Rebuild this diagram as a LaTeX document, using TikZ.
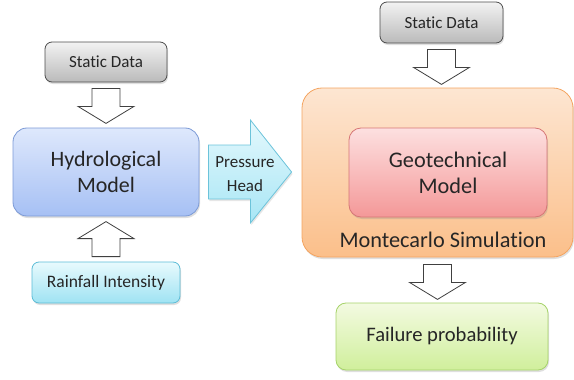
\documentclass[tikz,border=0pt]{standalone}
\usepackage{fontspec}
\setmainfont{Carlito}[Ligatures=NoCommon]
\usetikzlibrary{shadows,calc}
\definecolor{txt}{HTML}{262626}
\begin{document}
\begin{tikzpicture}[x=1pt,y=-1pt,
  box/.style={draw, line width=0.8pt, align=center, text=txt, inner sep=0pt,
    drop shadow={opacity=0.25, shadow xshift=1pt, shadow yshift=-2pt}},
  greybox/.style={box, rounded corners=7pt, draw=black!70, top color=black!5, bottom color=black!27},
  hollow/.style={draw=black!75, fill=white, line width=0.8pt},
  hollowdown/.pic={\draw[hollow] (-14,0) -- (14,0) -- (14,18) -- (28,18) -- (0,35) -- (-28,18) -- (-14,18) -- cycle;}
]
\useasboundingbox (0,0) rectangle (574,380);

% left column
\node[greybox, minimum width=122pt, minimum height=40pt, font=\fontsize{17}{20}\selectfont] (sd1) at (106,62) {Static Data};
\node[box, rounded corners=14pt, minimum width=186pt, minimum height=88pt,
  draw={rgb,255:red,124;green,154;blue,214}, top color={rgb,255:red,222;green,232;blue,252}, bottom color={rgb,255:red,166;green,192;blue,244},
  font=\fontsize{22}{26}\selectfont] (hyd) at (106,172) {Hydrological\\Model};
\node[box, rounded corners=7pt, minimum width=148pt, minimum height=41pt,
  draw={rgb,255:red,91;green,188;blue,214}, top color={rgb,255:red,232;green,250;blue,253}, bottom color={rgb,255:red,159;green,227;blue,243},
  font=\fontsize{17.5}{20}\selectfont] (rain) at (106,282.5) {Rainfall Intensity};

\pic at ($(sd1.south)+(0,6)$) {hollowdown};
\pic[yscale=-1] at ($(rain.north)+(0,-5)$) {hollowdown};

% right column
\node[box, rounded corners=20pt, minimum width=271pt, minimum height=169pt,
  draw={rgb,255:red,244;green,164;blue,96}, top color={rgb,255:red,253;green,230;blue,210}, bottom color={rgb,255:red,251;green,191;blue,138}] (mc) at (437.5,172.5) {};
\node[text=txt, font=\fontsize{22.3}{26}\selectfont] (mclabel) at (443,240) {Montecarlo Simulation};
\node[box, rounded corners=12pt, minimum width=198pt, minimum height=89pt,
  draw={rgb,255:red,214;green,118;blue,118}, top color={rgb,255:red,253;green,224;blue,224}, bottom color={rgb,255:red,244;green,152;blue,152},
  font=\fontsize{22.3}{26}\selectfont] (geo) at (448,172.5) {Geotechnical\\Model};
\node[greybox, minimum width=123pt, minimum height=41pt, font=\fontsize{17}{20}\selectfont] (sd2) at (441.5,22.5) {Static Data};
\node[box, rounded corners=10pt, minimum width=212pt, minimum height=67pt,
  draw={rgb,255:red,166;green,211;blue,106}, top color={rgb,255:red,243;green,250;blue,225}, bottom color={rgb,255:red,208;green,239;blue,156},
  font=\fontsize{20.6}{24}\selectfont] (fail) at (442,336.5) {Failure probability};

\pic at ($(sd2.south)+(0,6)$) {hollowdown};
\pic at ($(mc.south)+(0,7)$) {hollowdown};

% pressure head block arrow
\draw[line width=0.8pt, draw={rgb,255:red,108;green,195;blue,218},
  top color={rgb,255:red,228;green,248;blue,253}, bottom color={rgb,255:red,168;green,230;blue,245},
  drop shadow={opacity=0.2, shadow xshift=1pt, shadow yshift=-2pt}]
  ($(hyd.east)+(9,-27)$) -- ++(42,0) -- ++(0,-25) -- ($(mc.west)+(-10,-0.5)$) -- ($(hyd.east)+(51,51)$) -- ++(0,-24) -- ++(-42,0) -- cycle;
\node[text=txt, align=center, font=\fontsize{17}{24}\selectfont] (ph) at (245,174) {Pressure\\Head};
\end{tikzpicture}
\end{document}
